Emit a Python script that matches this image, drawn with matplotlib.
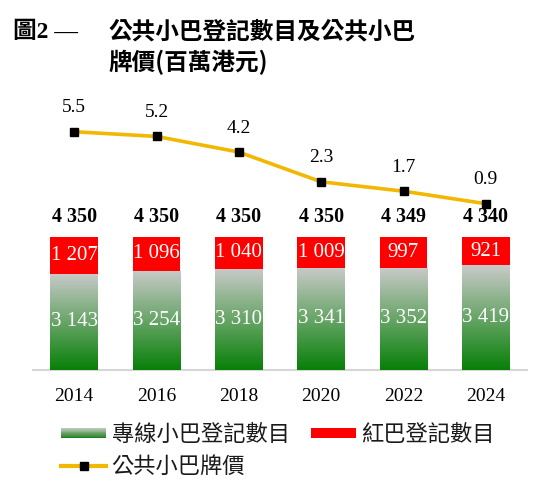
import matplotlib
matplotlib.use('Agg')
import matplotlib.pyplot as plt
import numpy as np
from matplotlib.patches import Rectangle
from matplotlib.lines import Line2D
from matplotlib.legend_handler import HandlerBase
from matplotlib.colors import to_rgb
from matplotlib.font_manager import FontProperties

# ---- data ----
years = ['2014', '2016', '2018', '2020', '2022', '2024']
green_minibus = [3143, 3254, 3310, 3341, 3352, 3419]
red_minibus = [1207, 1096, 1040, 1009, 997, 921]
totals = [4350, 4350, 4350, 4350, 4349, 4340]
licence_price = [5.5, 5.2, 4.2, 2.3, 1.7, 0.9]

title_prefix = '圖2 —'
title_line1 = '公共小巴登記數目及公共小巴'
title_line2 = '牌價(百萬港元)'
legend_labels = ['專線小巴登記數目', '公共小巴牌價', '紅巴登記數目']

SERIF = 'Liberation Serif'
CJK = 'Noto Sans CJK TC'
GOLD = '#F2B800'
RED = '#FF0000'
TOP_C = np.array(to_rgb('#CACACA'))
BOT_C = np.array(to_rgb('#078007'))


def fmt(v):
    return f'{v:,}'.replace(',', ' ')


W, H = 546, 499
fig = plt.figure(figsize=(W / 100, H / 100), dpi=100)


def fx(px):
    return px / W


def fy(py):
    return 1 - py / H


ax = fig.add_axes([fx(33), fy(370), fx(527) - fx(33), fy(100) - fy(370)])
x = np.arange(len(years))
bw = 0.58

grad = np.linspace(BOT_C, TOP_C, 256)[:, None, :]
gbars = ax.bar(x, green_minibus, bw, color='none', edgecolor='none', zorder=2)
for b in gbars:
    im = ax.imshow(grad, extent=[b.get_x(), b.get_x() + b.get_width(), 0, b.get_height()],
                   origin='lower', aspect='auto', interpolation='bilinear', zorder=2)
    im.set_clip_path(b)
ax.bar(x, red_minibus, bw, bottom=green_minibus, color=RED, edgecolor='none', zorder=2)

for xi, g, r, t in zip(x, green_minibus, red_minibus, totals):
    ax.text(xi, g / 2, fmt(g), ha='center', va='center', color='white',
            fontsize=15, family=SERIF, zorder=4)
    ax.text(xi, g + r / 2, fmt(r), ha='center', va='center', color='white',
            fontsize=15, family=SERIF, zorder=4)
    ax.annotate(fmt(t), (xi, t), xytext=(0, 14.4), textcoords='offset points',
                ha='center', va='center', fontsize=14.4, fontweight='bold',
                family=SERIF, color='black')

ax.set_xlim(-0.5, 5.5)
ax.set_ylim(0, 4350 * 270 / 133)
ax.set_xticks(x, years)
ax.tick_params(axis='x', length=0, pad=13, labelsize=14)
for lab in ax.get_xticklabels():
    lab.set_family(SERIF)
ax.set_yticks([])
for s in ['top', 'left', 'right']:
    ax.spines[s].set_visible(False)
ax.spines['bottom'].set_color('#D6D6D6')
ax.spines['bottom'].set_linewidth(1.5)
ax.spines['bottom'].set_zorder(1)

ax2 = ax.twinx()
ax2.set_ylim(-9.725, 7.527)
ax2.plot(x, licence_price, color=GOLD, lw=2.6, marker='s', ms=5.3,
         mfc='black', mec='black', zorder=3)
for xi, p in zip(x, licence_price):
    ax2.annotate(f'{p}', (xi, p), xytext=(0, 17.3), textcoords='offset points',
                 ha='center', va='center', fontsize=14, family=SERIF, color='black')
ax2.axis('off')
ax2.set_xlim(-0.5, 5.5)

# ---- title ----
fig.text(fx(13), fy(32), title_prefix, ha='left', va='center', fontsize=17,
         fontweight='bold', family=[SERIF, CJK])
fig.text(fx(108), fy(32), title_line1, ha='left', va='center', fontsize=17,
         fontweight='bold', family=[CJK, SERIF])
fig.text(fx(108), fy(62), title_line2, ha='left', va='center', fontsize=17,
         fontweight='bold', family=[CJK, SERIF])


# ---- legend ----
class GradHandler(HandlerBase):
    def __init__(self, c_top, c_bot, n=24):
        super().__init__()
        self.c_top = np.array(c_top)
        self.c_bot = np.array(c_bot)
        self.n = n

    def create_artists(self, legend, orig_handle, xdescent, ydescent, width,
                       height, fontsize, trans):
        h = 0.45 * fontsize
        y0 = (height - h) / 2 - ydescent
        arts = []
        for i in range(self.n):
            f = i / max(self.n - 1, 1)
            col = self.c_bot + (self.c_top - self.c_bot) * f
            r = Rectangle((-xdescent, y0 + i * h / self.n), width, h / self.n + 0.05,
                          facecolor=col, edgecolor='none', transform=trans)
            arts.append(r)
        return arts


green_proxy = Rectangle((0, 0), 1, 1)
red_proxy = Rectangle((0, 0), 1, 1)
line_proxy = Line2D([], [], color=GOLD, lw=3, marker='s', ms=6, mfc='black', mec='black')

fig.legend([green_proxy, line_proxy, red_proxy], legend_labels, ncol=2,
           loc='upper left', bbox_to_anchor=(fx(61), fy(423)), frameon=False,
           borderpad=0, borderaxespad=0, handlelength=2.03, handletextpad=0.25,
           columnspacing=0.95, labelspacing=0.42,
           prop=FontProperties(family=CJK, size=16),
           labelcolor='#1A1A1A',
           handler_map={green_proxy: GradHandler(to_rgb('#B8C8B8'), to_rgb('#1E7E1E'), 12),
                        red_proxy: GradHandler(to_rgb(RED), to_rgb(RED), 1)})

fig.savefig('out.png', dpi=100)
